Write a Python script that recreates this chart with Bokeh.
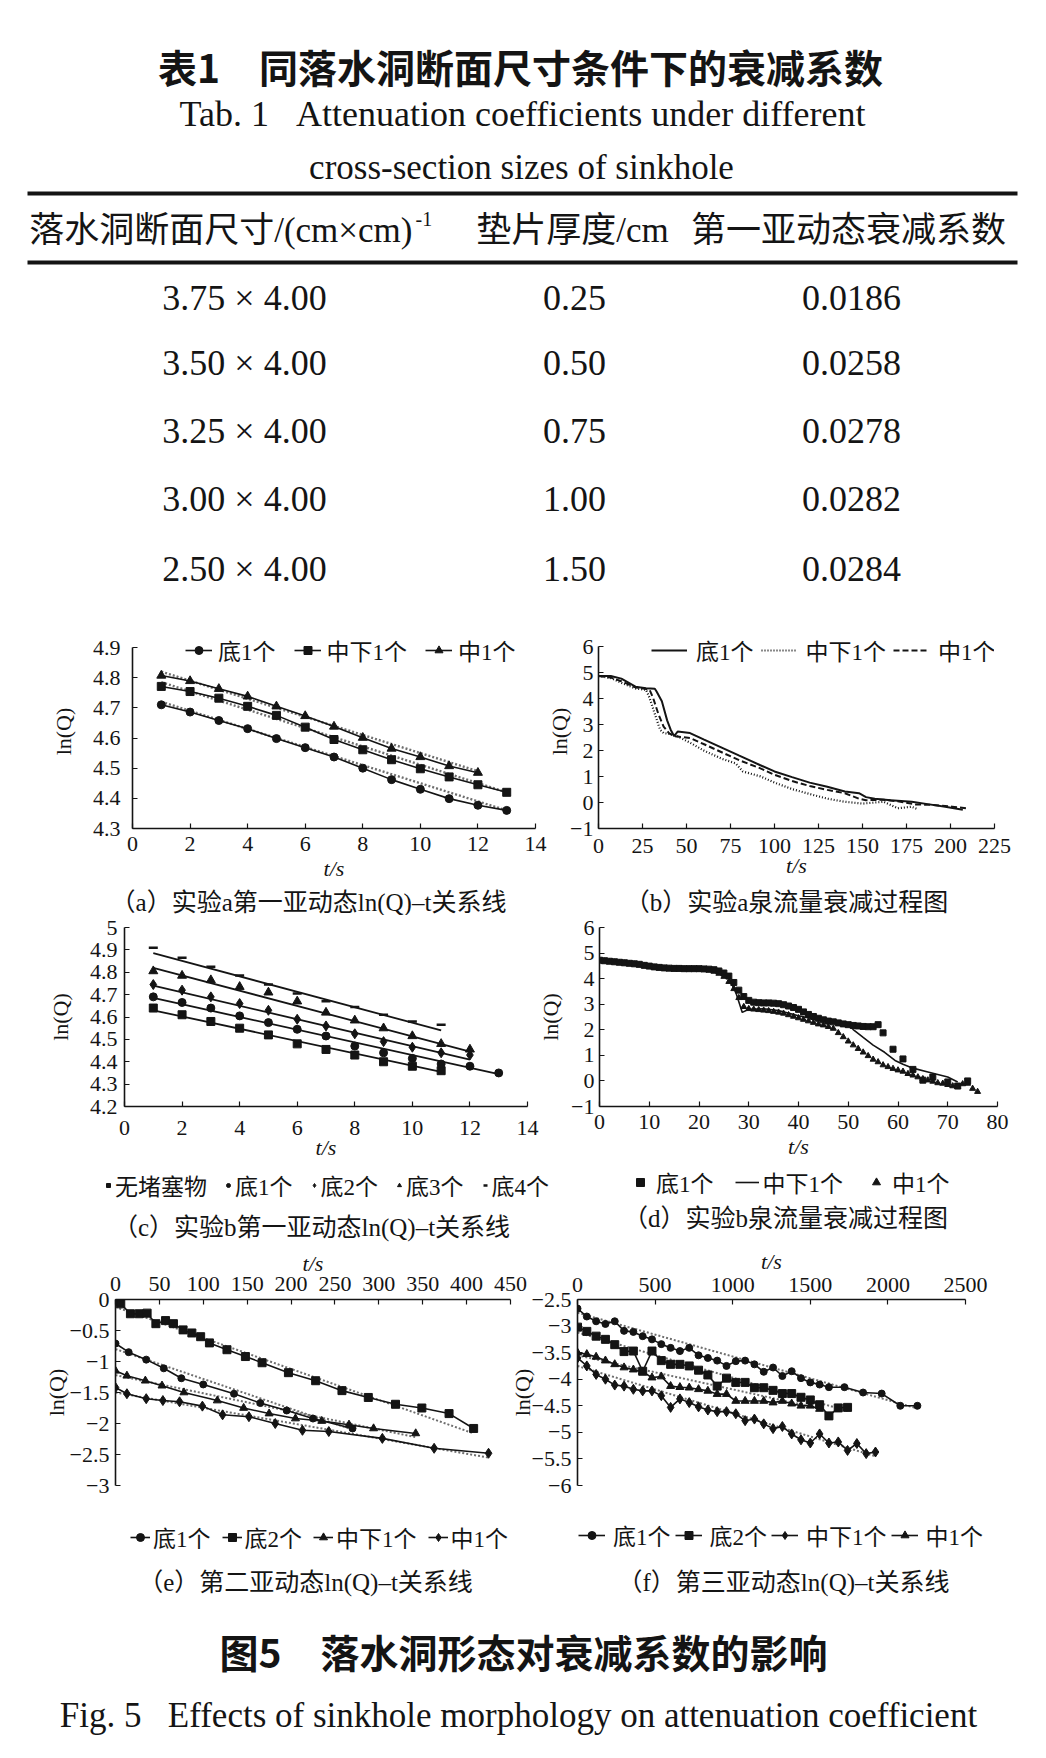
from bokeh.plotting import figure
from bokeh.layouts import column, row
from bokeh.models import Range1d, FixedTicker, CustomJSTickFormatter, Legend, LegendItem
from bokeh.core.properties import value
from bokeh.embed import file_html
from bokeh.resources import INLINE

# ---------------- data ----------------
# Table 1
tab_width = [3.75, 3.50, 3.25, 3.00, 2.50]
tab_height = [4.00, 4.00, 4.00, 4.00, 4.00]
tab_gasket = [0.25, 0.50, 0.75, 1.00, 1.50]
tab_coef = [0.0186, 0.0258, 0.0278, 0.0282, 0.0284]
tab_headers = ["落水洞断面尺寸/(cm×cm)", "垫片厚度/cm", "第一亚动态衰减系数"]

# (a) experiment a, first sub-dynamic state
a_t13 = [1, 2, 3, 4, 5, 6, 7, 8, 9, 10, 11, 12, 13]
a_t12 = [1, 2, 3, 4, 5, 6, 7, 8, 9, 10, 11, 12]
a_di1 = [4.710, 4.686, 4.658, 4.631, 4.598, 4.568, 4.537, 4.500, 4.462, 4.430, 4.399, 4.377, 4.360]
a_zx1 = [4.771, 4.754, 4.732, 4.705, 4.675, 4.636, 4.595, 4.561, 4.528, 4.498, 4.471, 4.445, 4.420]
a_z1 = [4.807, 4.789, 4.763, 4.738, 4.705, 4.673, 4.638, 4.601, 4.565, 4.537, 4.507, 4.485]
a_fit_di1 = ([1, 13], [4.720, 4.360])
a_fit_zx1 = ([1, 13], [4.785, 4.420])
a_fit_z1 = ([1, 12], [4.820, 4.490])

# (b) experiment a, spring discharge decay
b_di1_t = [0, 7, 13, 21, 27, 32, 33, 36, 39, 41, 43, 45, 52, 60, 70, 80, 92, 100, 110, 120,
           130, 140, 148, 152, 157, 166, 178, 187, 197, 207]
b_di1 = [4.88, 4.88, 4.78, 4.47, 4.41, 4.39, 4.28, 3.91, 3.17, 2.81, 2.56, 2.74, 2.68, 2.43, 2.12,
         1.81, 1.44, 1.20, 0.98, 0.77, 0.61, 0.43, 0.36, 0.21, 0.15, 0.09, 0.03, -0.06, -0.16, -0.28]
b_zx1_t = [0, 7, 13, 21, 27, 29, 32, 35, 37, 43, 52, 60, 70, 78, 82, 92, 100, 110, 120, 130,
           140, 150, 162, 170, 178, 181]
b_zx1 = [4.88, 4.80, 4.62, 4.40, 4.35, 4.04, 3.42, 2.81, 2.68, 2.62, 2.31, 2.00, 1.69, 1.51, 1.20,
         1.01, 0.77, 0.52, 0.33, 0.15, 0.03, -0.04, 0.03, -0.22, -0.16, -0.25]
b_z1_t = [0, 7, 13, 21, 27, 29, 31, 34, 37, 40, 43, 52, 60, 70, 80, 92, 100, 110, 120, 130,
          140, 148, 152, 162, 170, 180, 190, 201, 209]
b_z1 = [4.88, 4.82, 4.68, 4.44, 4.38, 4.35, 4.04, 3.42, 2.93, 2.68, 2.56, 2.49, 2.25, 1.94, 1.63,
        1.32, 1.07, 0.83, 0.64, 0.49, 0.36, 0.15, 0.09, 0.11, 0.05, -0.07, -0.09, -0.16, -0.22]

# (c) experiment b, first sub-dynamic state
c_t11 = [1, 2, 3, 4, 5, 6, 7, 8, 9, 10, 11]
c_t12 = [1, 2, 3, 4, 5, 6, 7, 8, 9, 10, 11, 12]
c_t13 = [1, 2, 3, 4, 5, 6, 7, 8, 9, 10, 11, 12, 13]
c_none = [4.64, 4.61, 4.58, 4.55, 4.52, 4.48, 4.455, 4.43, 4.40, 4.38, 4.36]
c_di1 = [4.69, 4.665, 4.64, 4.605, 4.575, 4.545, 4.515, 4.47, 4.44, 4.415, 4.39, 4.38, 4.35]
c_di2 = [4.745, 4.72, 4.69, 4.66, 4.63, 4.59, 4.56, 4.525, 4.49, 4.465, 4.44, 4.43]
c_di3 = [4.805, 4.785, 4.765, 4.735, 4.71, 4.67, 4.62, 4.585, 4.55, 4.515, 4.48, 4.455]
c_di4 = [4.91, 4.865, 4.825, 4.785, 4.745, 4.705, 4.67, 4.645, 4.61, 4.58, 4.565]
c_fit_none = ([1, 11], [4.630, 4.355])
c_fit_di1 = ([1, 13], [4.685, 4.345])
c_fit_di2 = ([1, 12], [4.740, 4.410])
c_fit_di3 = ([1, 12], [4.820, 4.445])
c_fit_di4 = ([1, 11], [4.885, 4.540])

# (d) experiment b, spring discharge decay
d_di1_t = [0, 1, 2, 3, 4, 5, 6, 7, 8, 9, 10, 11, 12, 13, 14, 15, 16, 17, 18, 19, 20,
           21, 22, 23, 24, 25, 26, 27, 28, 29, 30, 31, 32, 33, 34, 35, 36, 37, 38, 39, 40,
           41, 42, 43, 44, 45, 46, 47, 48, 49, 50, 51, 52, 53, 54, 55, 56,
           57, 59, 61, 63, 65, 67, 70, 72, 74]
d_di1 = [4.72, 4.70, 4.68, 4.66, 4.64, 4.62, 4.60, 4.58, 4.56, 4.52, 4.49, 4.46, 4.44, 4.42,
         4.41, 4.40, 4.40, 4.39, 4.39, 4.39, 4.39, 4.38, 4.37, 4.35, 4.30, 4.22, 4.10, 3.85,
         3.55, 3.30, 3.15, 3.08, 3.06, 3.05, 3.05, 3.04, 3.02, 2.98, 2.93, 2.87, 2.80, 2.70,
         2.60, 2.52, 2.45, 2.39, 2.34, 2.31, 2.27, 2.23, 2.20, 2.17, 2.15, 2.13, 2.12, 2.12,
         2.20, 1.88, 1.24, 0.86, 0.45, 0.03, 0.15, -0.04, -0.20, 0.00]
d_zx1_t = [0, 5, 10, 15, 20, 24, 26, 27.5, 28.7, 30, 33, 36, 40, 44, 48, 50.3, 51, 53, 55,
           57.3, 59.4, 61, 63, 66, 70, 72]
d_zx1 = [4.70, 4.60, 4.45, 4.39, 4.37, 4.30, 4.05, 3.40, 2.68, 2.80, 2.82, 2.75, 2.55, 2.38,
         2.22, 2.14, 2.01, 1.70, 1.40, 1.12, 0.80, 0.65, 0.50, 0.35, 0.15, -0.04]
d_z1_t = [0, 1, 2, 3, 4, 5, 6, 7, 8, 9, 10, 11, 12, 13, 14, 15, 16, 17, 18, 19, 20,
          21, 22, 23, 24, 25, 26, 27, 28, 29, 30, 31, 32, 33, 34, 35, 36, 37, 38, 39, 40,
          41, 42, 43, 44, 45, 46, 47, 48, 49, 50, 51, 52, 53, 54, 55, 56, 57, 58, 59, 60,
          61, 62, 63, 64, 65, 66, 67, 68, 69, 70, 71, 72, 73, 74, 75, 76]
d_z1 = [4.70, 4.68, 4.66, 4.64, 4.62, 4.60, 4.58, 4.56, 4.53, 4.50, 4.47, 4.44, 4.42, 4.40,
        4.39, 4.38, 4.38, 4.37, 4.37, 4.37, 4.36, 4.35, 4.33, 4.28, 4.20, 4.08, 3.88,
        3.60, 3.25, 2.90, 2.82, 2.80, 2.78, 2.76, 2.74, 2.71,
        2.68, 2.64, 2.58, 2.52, 2.46, 2.40, 2.34, 2.28, 2.22, 2.18, 2.12, 2.05,
        1.88, 1.72, 1.55, 1.40, 1.26, 1.12, 0.98, 0.84, 0.74, 0.62, 0.55, 0.48, 0.42,
        0.37, 0.28, 0.22, 0.15, 0.08, 0.03, -0.02, -0.08, -0.10, -0.15, -0.20, -0.23,
        -0.12, -0.10, -0.30, -0.42]

# (e) second sub-dynamic state
e_di1_t = [0, 15, 35, 55, 75, 100, 135, 165, 195, 225, 270]
e_di1 = [-0.71, -0.85, -0.97, -1.11, -1.27, -1.37, -1.52, -1.67, -1.79, -1.92, -2.08]
e_di2_t = [0, 6, 17, 27, 36, 46, 57, 66, 77, 87, 97, 107, 127, 148, 167, 197, 228, 258, 288,
           319, 349, 380, 408]
e_di2 = [-0.04, -0.07, -0.23, -0.23, -0.22, -0.39, -0.34, -0.39, -0.49, -0.54, -0.60, -0.70,
         -0.81, -0.92, -1.02, -1.18, -1.31, -1.47, -1.58, -1.69, -1.75, -1.84, -2.08]
e_zx1_t = [0, 13, 34, 53, 78, 116, 146, 175, 205, 235, 266, 294, 342]
e_zx1 = [-1.15, -1.23, -1.31, -1.39, -1.50, -1.63, -1.75, -1.84, -1.92, -1.96, -2.02, -2.08, -2.16]
e_z1_t = [0, 13, 35, 54, 73, 99, 122, 152, 182, 213, 243, 304, 363, 425]
e_z1 = [-1.42, -1.52, -1.60, -1.63, -1.65, -1.72, -1.86, -1.89, -2.00, -2.11, -2.13, -2.24,
        -2.40, -2.48]
e_fit_di1 = ([0, 270], [-0.80, -2.10])
e_fit_di2 = ([0, 408], [-0.12, -2.16])
e_fit_zx1 = ([0, 342], [-1.22, -2.22])
e_fit_z1 = ([0, 425], [-1.50, -2.55])

# (f) third sub-dynamic state
f_di1_t = [0, 60, 120, 180, 240, 300, 360, 420, 480, 540, 600, 660, 720, 780, 840, 900, 960,
           1020, 1080, 1140, 1200, 1260, 1320, 1380, 1440, 1500, 1560, 1620, 1720, 1840, 1960,
           2080, 2190]
f_di1 = [-2.67, -2.82, -2.91, -2.96, -2.91, -3.09, -3.11, -3.19, -3.25, -3.34, -3.41, -3.47,
         -3.41, -3.55, -3.60, -3.65, -3.75, -3.66, -3.65, -3.72, -3.86, -3.78, -3.94, -3.85,
         -3.98, -4.06, -4.10, -4.15, -4.15, -4.25, -4.27, -4.50, -4.50]
f_di2_t = [0, 60, 120, 180, 240, 300, 360, 420, 480, 540, 600, 660, 720, 780, 840, 900, 960,
           1020, 1080, 1140, 1200, 1260, 1320, 1380, 1440, 1500, 1560, 1620, 1680, 1740]
f_di2 = [-3.02, -3.10, -3.19, -3.25, -3.35, -3.48, -3.47, -3.85, -3.47, -3.65, -3.72, -3.72,
         -3.75, -3.83, -3.92, -4.13, -3.98, -4.06, -4.06, -4.16, -4.16, -4.21, -4.27, -4.27,
         -4.34, -4.39, -4.48, -4.69, -4.54, -4.53]
f_zx1_t = [0, 60, 120, 180, 240, 300, 360, 420, 480, 540, 600, 660, 720, 780, 840, 900, 960,
           1020, 1080, 1140, 1200, 1260, 1320, 1380, 1440, 1500, 1560, 1620, 1680, 1740, 1800,
           1860, 1920]
f_zx1 = [-3.60, -3.75, -3.91, -4.00, -4.11, -4.13, -4.19, -4.22, -4.22, -4.31, -4.53, -4.37,
         -4.44, -4.52, -4.58, -4.61, -4.61, -4.65, -4.78, -4.75, -4.84, -4.93, -4.89, -5.03,
         -5.14, -5.20, -5.03, -5.20, -5.18, -5.34, -5.21, -5.40, -5.37]
f_z1_t = [0, 60, 120, 180, 240, 300, 360, 420, 480, 540, 600, 660, 720, 780, 840, 900, 960,
          1020, 1080, 1140, 1200, 1260, 1320, 1380, 1440, 1500, 1560]
f_z1 = [-3.50, -3.53, -3.58, -3.65, -3.72, -3.78, -3.82, -3.86, -3.97, -3.95, -4.13, -4.15,
        -4.16, -4.19, -4.22, -4.28, -4.28, -4.41, -4.41, -4.41, -4.41, -4.44, -4.41, -4.46,
        -4.50, -4.50, -4.56]
f_fit_di1 = ([0, 2190], [-2.75, -4.55])
f_fit_di2 = ([0, 1740], [-3.12, -4.60])
f_fit_zx1 = ([0, 1920], [-3.75, -5.45])
f_fit_z1 = ([0, 1560], [-3.55, -4.55])

# ticks
a_xticks = [0, 2, 4, 6, 8, 10, 12, 14]
a_yticks = [4.3, 4.4, 4.5, 4.6, 4.7, 4.8, 4.9]
b_xticks = [0, 25, 50, 75, 100, 125, 150, 175, 200, 225]
b_yticks = [-1, 0, 1, 2, 3, 4, 5, 6]
c_xticks = [0, 2, 4, 6, 8, 10, 12, 14]
c_yticks = [4.2, 4.3, 4.4, 4.5, 4.6, 4.7, 4.8, 4.9, 5.0]
d_xticks = [0, 10, 20, 30, 40, 50, 60, 70, 80]
d_yticks = [-1, 0, 1, 2, 3, 4, 5, 6]
e_xticks = [0, 50, 100, 150, 200, 250, 300, 350, 400, 450]
e_yticks = [0, -0.5, -1, -1.5, -2, -2.5, -3]
f_xticks = [0, 500, 1000, 1500, 2000, 2500]
f_yticks = [-2.5, -3, -3.5, -4, -4.5, -5, -5.5, -6]

# ---------------- style ----------------
INK = "#141414"
FIT = "#6e6e6e"
SERIF = "Liberation Serif"
CJK = "Liberation Serif, Noto Sans CJK SC"
HEI = "Noto Sans CJK SC"
NB = "\u00a0"

FMT = CustomJSTickFormatter(code="""
const s = String(Number(tick.toFixed(2)));
return s.replace("-", "\\u2212");
""")


def clear(p):
    p.outline_line_color = None
    p.border_fill_alpha = 0
    p.background_fill_alpha = 0


def canvas(w, h, mt=0):
    kw = {"margin": (mt, 0, 0, 0)} if mt else {}
    p = figure(width=w, height=h, x_range=Range1d(0, w), y_range=Range1d(h, 0),
               x_axis_type=None, y_axis_type=None, output_backend="svg",
               toolbar_location=None, min_border=0, **kw)
    clear(p)
    return p


def txt(p, x, y, s, size, font=CJK, style="normal", align="center"):
    p.text(x=[x], y=[y], text=[s], text_font=value(font), text_font_size=f"{size}px",
           text_font_style=style, text_align=align, text_baseline="middle", text_color=INK)


def panel(w, h, xr, yr, mb, above=False, shift=0):
    l, r, t, b = mb
    kw = {"margin": (0, 0, 0, -shift)} if shift else {}
    p = figure(width=w, height=h, x_range=Range1d(*xr), y_range=Range1d(*yr),
               output_backend="svg", toolbar_location=None,
               x_axis_location="above" if above else "below",
               min_border_left=l, min_border_right=r, min_border_top=t, min_border_bottom=b, **kw)
    p.grid.visible = False
    clear(p)
    return p


def axes(p, xticks, yticks, ybounds, xls, xals, yls, yals):
    p.xaxis.ticker = FixedTicker(ticks=xticks)
    p.yaxis.ticker = FixedTicker(ticks=yticks)
    p.yaxis.bounds = ybounds
    p.xaxis.axis_label = "t/s"
    p.yaxis.axis_label = "ln(Q)"
    for ax in list(p.xaxis) + list(p.yaxis):
        ax.formatter = FMT
        ax.axis_line_color = INK
        ax.axis_line_width = 1.6
        ax.major_tick_line_color = INK
        ax.major_tick_line_width = 1.2
        ax.major_tick_in = 5
        ax.major_tick_out = 0
        ax.minor_tick_line_color = None
        ax.major_label_text_font = SERIF
        ax.major_label_text_font_size = "22px"
        ax.major_label_text_color = INK
        ax.axis_label_text_font = SERIF
        ax.axis_label_text_font_size = "22px"
        ax.axis_label_text_color = INK
    p.xaxis.axis_label_text_font_style = "italic"
    p.yaxis.axis_label_text_font_style = "normal"
    p.xaxis.major_label_standoff = xls
    p.xaxis.axis_label_standoff = xals
    p.yaxis.major_label_standoff = yls
    p.yaxis.axis_label_standoff = yals


def legend(p, items, loc, gw, st, sp, size=23):
    lg = Legend(items=[LegendItem(label=value(lab), renderers=rs) for lab, rs in items],
                location=loc, orientation="horizontal",
                label_text_font=CJK, label_text_font_size=f"{size}px", label_text_color=INK,
                glyph_width=gw, glyph_height=20, label_height=20, label_standoff=st,
                spacing=sp, padding=0, margin=0, inactive_fill_alpha=0,
                border_line_color=None, background_fill_alpha=0)
    p.add_layout(lg)


def fit(p, f, dash="2 2", width=2.4):
    p.line(f[0], f[1], line_color=FIT, line_width=width, line_dash=dash)


def series(p, x, y, marker, size, lw=1.6, line=True):
    rs = []
    if line:
        rs.append(p.line(x, y, line_color=INK, line_width=lw))
    rs.append(p.scatter(x, y, marker=marker, size=size, fill_color=INK, line_color=INK))
    return rs


def key(p, x, y, marker=None, size=8, line=False, lw=1.6):
    """legend key for a series drawn in a panel above: hidden copy, used only as swatch"""
    rs = []
    if line:
        rs.append(p.line(x, y, line_color=INK, line_width=lw, visible=False))
    if marker:
        rs.append(p.scatter(x, y, marker=marker, size=size, fill_color=INK, line_color=INK,
                            line_width=2.5 if marker == "dash" else 1, visible=False))
    return rs


W = 1040

# ---------------- header / table ----------------
hd = canvas(W, 633)
txt(hd, 520, 65, "表1　同落水洞断面尺寸条件下的衰减系数", 39, HEI, "bold")
txt(hd, 522, 113, "Tab. 1" + NB * 3 + "Attenuation coefficients under different", 36, SERIF)
txt(hd, 521, 167, "cross-section sizes of sinkhole", 35, SERIF)
hd.segment(x0=[27, 27], y0=[193, 262], x1=[1017, 1017], y1=[193, 262], line_width=4, line_color=INK)
txt(hd, 412, 230, tab_headers[0], 35, CJK, align="right")
txt(hd, 415, 218, "-1", 20, SERIF, align="left")
txt(hd, 572, 230, tab_headers[1], 35, CJK)
txt(hd, 848, 230, tab_headers[2], 35, CJK)
row_y = [297, 362, 430, 498, 568]
col1 = [f"{w:.2f} × {h:.2f}" for w, h in zip(tab_width, tab_height)]
col2 = [f"{g:.2f}" for g in tab_gasket]
col3 = [f"{c:.4f}" for c in tab_coef]
for cx, col in ((244, col1), (574, col2), (851, col3)):
    hd.text(x=[cx] * len(col), y=row_y, text=col, text_font=value(SERIF), text_font_size="36px",
            text_align="center", text_baseline="middle", text_color=INK)

# ---------------- (a) ----------------
pa = panel(550, 283, (0, 14), (4.3, 4.9431), (132, 15, 1, 88))
axes(pa, a_xticks, a_yticks, (4.3, 4.9), 8, 2, 12, 14)
fit(pa, a_fit_di1); fit(pa, a_fit_zx1); fit(pa, a_fit_z1)
ra1 = series(pa, a_t13, a_di1, "circle", 8)
ra2 = series(pa, a_t13, a_zx1, "square", 8)
ra3 = series(pa, a_t12, a_z1, "triangle", 9)
legend(pa, [("底1个", ra1), ("中下1个", ra2), ("中1个", ra3)], (53, 161), 27, 6, 18)

# ---------------- (b) ----------------
pb = panel(500, 283, (0, 225), (-1, 6.4815), (58, 46, 1, 80), shift=10)
axes(pb, b_xticks, b_yticks, (-1, 6), 10, -3, 5, -5)
rb1 = pb.line(b_di1_t, b_di1, line_color=INK, line_width=2.0)
rb2 = pb.line(b_zx1_t, b_zx1, line_color=INK, line_width=2.2, line_dash="1 2")
rb3 = pb.line(b_z1_t, b_z1, line_color=INK, line_width=2.0, line_dash="6 3")
legend(pb, [("底1个", [rb1]), ("中下1个", [rb2]), ("中1个", [rb3])], (53, 161), 36, 9, 7)

s1 = canvas(W, 43, mt=-44)
txt(s1, 308, 30, "（a）实验a第一亚动态ln(Q)–t关系线", 25)
txt(s1, 786, 30, "（b）实验a泉流量衰减过程图", 25)

# ---------------- (c) ----------------
pc = panel(555, 292, (0, 14), (4.2, 5.0), (124, 28, 22, 84))
axes(pc, c_xticks, c_yticks, (4.2, 5.0), 14, -3, 7, 14)
for f_ in (c_fit_none, c_fit_di1, c_fit_di2, c_fit_di3, c_fit_di4):
    pc.line(f_[0], f_[1], line_color=INK, line_width=1.8)
series(pc, c_t11, c_none, "square", 8, line=False)
series(pc, c_t13, c_di1, "circle", 8, line=False)
series(pc, c_t12, c_di2, "diamond", 10, line=False)
series(pc, c_t12, c_di3, "triangle", 9, line=False)
pc.scatter(c_t11, c_di4, marker="dash", size=9, line_color=INK, line_width=2.5)

# ---------------- (d) ----------------
pd_ = panel(505, 292, (0, 80), (-1, 6), (56, 43, 18, 91), shift=20)
axes(pd_, d_xticks, d_yticks, (-1, 6), 8, 2, 5, 5)
pd_.line(d_zx1_t, d_zx1, line_color=INK, line_width=1.6)
pd_.scatter(d_di1_t, d_di1, marker="square", size=6, fill_color=INK, line_color=INK)
pd_.scatter(d_z1_t, d_z1, marker="triangle", size=6, fill_color=INK, line_color=INK)

s2 = canvas(W, 85, mt=-37)
legend(s2, [("无堵塞物", key(s2, c_t11, c_none, "square", 8)),
            ("底1个", key(s2, c_t13, c_di1, "circle", 8)),
            ("底2个", key(s2, c_t12, c_di2, "diamond", 10)),
            ("底3个", key(s2, c_t12, c_di3, "triangle", 9)),
            ("底4个", key(s2, c_t11, c_di4, "dash", 9))], (103, 43), 10, 2, 16)
legend(s2, [("底1个", key(s2, d_di1_t, d_di1, "square", 6)),
            ("中下1个", key(s2, d_zx1_t, d_zx1, line=True)),
            ("中1个", key(s2, d_z1_t, d_z1, "triangle", 6))], (628, 46), 24, 4, 21)
txt(s2, 311, 67, "（c）实验b第一亚动态ln(Q)–t关系线", 25)
txt(s2, 785, 58, "（d）实验b泉流量衰减过程图", 25)

# ---------------- (e) ----------------
pe = panel(530, 271, (0, 450), (-3, 0), (115, 20, 68, 14), above=True)
axes(pe, e_xticks, e_yticks, (-3, 0), 9, -2, 6, -2)
for f_ in (e_fit_di1, e_fit_di2, e_fit_zx1, e_fit_z1):
    fit(pe, f_, width=2.0)
series(pe, e_di1_t, e_di1, "circle", 7)
series(pe, e_di2_t, e_di2, "square", 8)
series(pe, e_zx1_t, e_zx1, "triangle", 8)
series(pe, e_z1_t, e_z1, "diamond", 10)

# ---------------- (f) ----------------
pf = panel(535, 271, (0, 2500), (-6, -2.5), (72, 75, 67, 17), above=True, shift=25)
axes(pf, f_xticks, f_yticks, (-6, -2.5), 8, 1, 6, -6)
for f_ in (f_fit_di1, f_fit_di2, f_fit_zx1, f_fit_z1):
    fit(pf, f_, width=2.0)
series(pf, f_di1_t, f_di1, "circle", 7)
series(pf, f_di2_t, f_di2, "square", 8)
series(pf, f_zx1_t, f_zx1, "diamond", 10)
series(pf, f_z1_t, f_z1, "triangle", 8)

s3 = canvas(W, 258, mt=-10)
legend(s3, [("底1个", key(s3, e_di1_t, e_di1, "circle", 7, True)),
            ("底2个", key(s3, e_di2_t, e_di2, "square", 8, True)),
            ("中下1个", key(s3, e_zx1_t, e_zx1, "triangle", 8, True)),
            ("中1个", key(s3, e_z1_t, e_z1, "diamond", 10, True))], (130, 196), 20, 3, 11)
legend(s3, [("底1个", key(s3, f_di1_t, f_di1, "circle", 7, True)),
            ("底2个", key(s3, f_di2_t, f_di2, "square", 8, True)),
            ("中下1个", key(s3, f_zx1_t, f_zx1, "diamond", 10, True)),
            ("中1个", key(s3, f_z1_t, f_z1, "triangle", 8, True))], (578, 198), 27, 8, 4)
txt(s3, 305, 90, "（e）第二亚动态ln(Q)–t关系线", 25)
txt(s3, 783, 90, "（f）第三亚动态ln(Q)–t关系线", 25)
txt(s3, 523, 158, "图5　落水洞形态对衰减系数的影响", 39, HEI, "bold")
txt(s3, 518, 223, "Fig. 5" + NB * 3 + "Effects of sinkhole morphology on attenuation coefficient",
    35, SERIF)

layout = column(hd, row(pa, pb), s1, row(pc, pd_, margin=(-10, 0, 0, 0)), s2,
                row(pe, pf, margin=(-14, 0, 0, 0)), s3)

with open("out.html", "w") as fh:
    fh.write(file_html(layout, INLINE))
